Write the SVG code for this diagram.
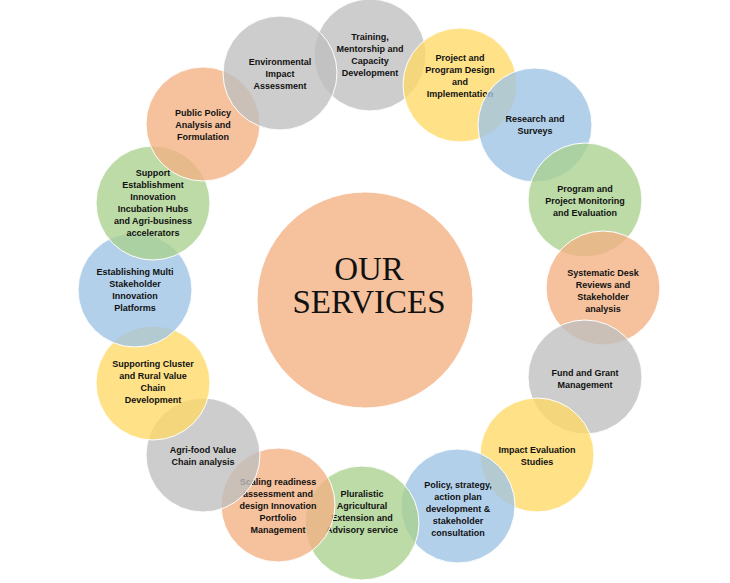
<svg xmlns="http://www.w3.org/2000/svg" width="730" height="583" viewBox="0 0 730 583">
<style>
circle{stroke:#fff;stroke-width:1;fill-opacity:0.78}
.o{fill:#F4B183}.g{fill:#BFBFBF}.y{fill:#FFD966}.b{fill:#9DC3E6}.n{fill:#A9D18E}
text{font-family:"Liberation Sans",Arial,sans-serif;font-size:9px;font-weight:bold;fill:#111;text-anchor:middle}
.c{font-family:"Liberation Serif","Times New Roman",serif;font-size:33px;font-weight:normal}
</style>
<rect width="730" height="583" fill="#fff"/>
<g id="center"><circle class="o" cx="365" cy="300" r="108"/><text class="c" x="369" y="280">OUR</text><text class="c" x="369" y="313">SERVICES</text></g>
<g id="n1"><circle class="g" cx="370" cy="55" r="56"/><text x="370" y="40">Training,</text><text x="370" y="52">Mentorship and</text><text x="370" y="64">Capacity</text><text x="370" y="76">Development</text></g>
<g id="n2"><circle class="y" cx="460" cy="85" r="57"/><text x="460" y="61">Project and</text><text x="460" y="73">Program Design</text><text x="460" y="85">and</text><text x="460" y="97">Implementation</text></g>
<g id="n3"><circle class="b" cx="535" cy="125" r="57"/><text x="535" y="122">Research and</text><text x="535" y="134">Surveys</text></g>
<g id="n4"><circle class="n" cx="585" cy="200" r="57"/><text x="585" y="192">Program and</text><text x="585" y="204">Project Monitoring</text><text x="585" y="216">and Evaluation</text></g>
<g id="n5"><circle class="o" cx="603" cy="288" r="57"/><text x="603" y="276">Systematic Desk</text><text x="603" y="288">Reviews and</text><text x="603" y="300">Stakeholder</text><text x="603" y="312">analysis</text></g>
<g id="n6"><circle class="g" cx="585" cy="377" r="57"/><text x="585" y="376">Fund and Grant</text><text x="585" y="388">Management</text></g>
<g id="n7"><circle class="y" cx="537" cy="455" r="57"/><text x="537" y="453">Impact Evaluation</text><text x="537" y="465">Studies</text></g>
<g id="n8"><circle class="b" cx="458" cy="506" r="57"/><text x="458" y="488">Policy, strategy,</text><text x="458" y="500">action plan</text><text x="458" y="512">development &amp;</text><text x="458" y="524">stakeholder</text><text x="458" y="536">consultation</text></g>
<g id="n9"><circle class="n" cx="362" cy="523" r="57"/><text x="362" y="497">Pluralistic</text><text x="362" y="509">Agricultural</text><text x="362" y="521">Extension and</text><text x="362" y="533">Advisory service</text></g>
<g id="n10"><circle class="o" cx="278" cy="505" r="57"/><text x="278" y="485">Scaling readiness</text><text x="278" y="497">assessment and</text><text x="278" y="509">design Innovation</text><text x="278" y="521">Portfolio</text><text x="278" y="533">Management</text></g>
<g id="n11"><circle class="g" cx="203" cy="455" r="57"/><text x="203" y="453">Agri-food Value</text><text x="203" y="465">Chain analysis</text></g>
<g id="n12"><circle class="y" cx="153" cy="383" r="57"/><text x="153" y="367">Supporting Cluster</text><text x="153" y="379">and Rural Value</text><text x="153" y="391">Chain</text><text x="153" y="403">Development</text></g>
<g id="n13"><circle class="b" cx="135" cy="290" r="57"/><text x="135" y="275">Establishing Multi</text><text x="135" y="287">Stakeholder</text><text x="135" y="299">Innovation</text><text x="135" y="311">Platforms</text></g>
<g id="n14"><circle class="n" cx="153" cy="203" r="57"/><text x="153" y="176">Support</text><text x="153" y="188">Establishment</text><text x="153" y="200">Innovation</text><text x="153" y="212">Incubation Hubs</text><text x="153" y="224">and Agri-business</text><text x="153" y="236">accelerators</text></g>
<g id="n15"><circle class="o" cx="203" cy="124" r="57"/><text x="203" y="116">Public Policy</text><text x="203" y="128">Analysis and</text><text x="203" y="140">Formulation</text></g>
<g id="n16"><circle class="g" cx="280" cy="73" r="57"/><text x="280" y="65">Environmental</text><text x="280" y="77">Impact</text><text x="280" y="89">Assessment</text></g>
<g id="connectors"/>
</svg>
